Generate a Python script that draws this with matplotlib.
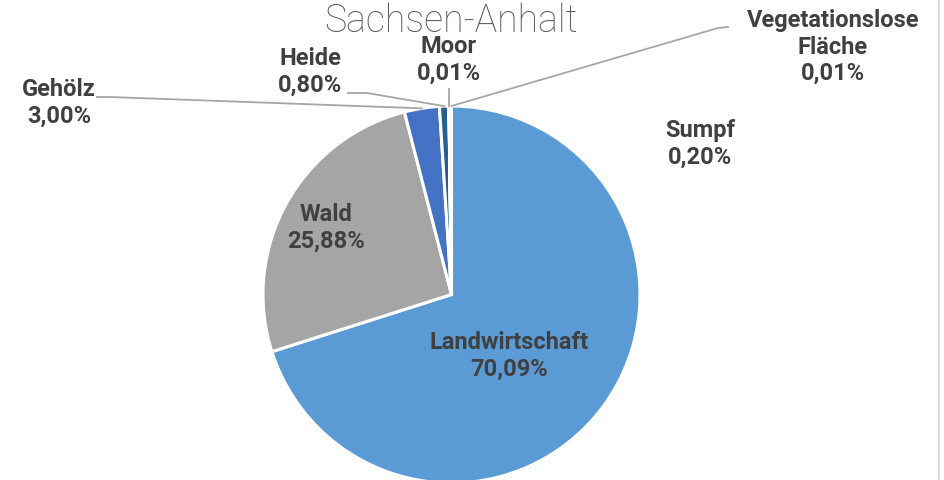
import numpy as np
import matplotlib.pyplot as plt

plt.rcParams['font.family'] = ['Roboto', 'DejaVu Sans']

# data
categories = ['Landwirtschaft', 'Wald', 'Gehölz', 'Heide', 'Moor', 'Sumpf', 'Vegetationslose\nFläche']
values = [70.09, 25.88, 3.00, 0.80, 0.01, 0.20, 0.01]
value_labels = ['70,09%', '25,88%', '3,00%', '0,80%', '0,01%', '0,20%', '0,01%']
colors = ['#5B9BD5', '#A5A5A5', '#4472C4', '#255E91', '#264478', '#7CAFDD', '#B7B7B7']

W, H = 944, 480
fig = plt.figure(figsize=(W / 100, H / 100), dpi=100)
ax = fig.add_axes([0, 0, 1, 1])

cx, cy, r = 451.5, H - 294.5, 188.5
wedges, _ = ax.pie(values, colors=colors, startangle=90, counterclock=False,
                   center=(cx, cy), radius=r, frame=True,
                   wedgeprops=dict(edgecolor='white', linewidth=2.2))
ax.set_xlim(0, W)
ax.set_ylim(0, H)
ax.set_aspect('equal')
ax.axis('off')

# label positions (image pixel coords, y from top)
label_pos = [(509, 356), (326, 228), (59, 103), (310, 72), (449, 60), (700, 144), (833, 47)]
txt_col = '#404040'
for name, vl, (x, y) in zip(categories, value_labels, label_pos):
    ax.text(x, H - y, name + '\n' + vl, ha='center', va='center', fontsize=17,
            fontweight='bold', color=txt_col, linespacing=1.2)

def edge_point(w, frac=1.0):
    a = np.deg2rad((w.theta1 + w.theta2) / 2)
    return cx + r * frac * np.cos(a), cy + r * frac * np.sin(a)

line_col = '#A6A6A6'
# Gehölz
px, py = edge_point(wedges[2])
ax.plot([97, 110, px], [H - 97, H - 97, py], color=line_col, lw=1.3)
# Heide
px, py = edge_point(wedges[3])
ax.plot([348, 367, px], [H - 93, H - 93, py], color=line_col, lw=1.3)
# Moor
px, py = edge_point(wedges[4])
ax.plot([px, px], [H - 89, py], color=line_col, lw=1.3)
# Vegetationslose Fläche
px, py = edge_point(wedges[6])
ax.plot([px, 718, 728], [py, H - 28, H - 27], color=line_col, lw=1.3)

ax.text(451, H - 32, 'Sachsen-Anhalt', ha='center', va='baseline', fontsize=27,
        fontweight='light', color='#595959')

ax.axvline(938.5, color='#D9D9D9', lw=1.5)

fig.savefig('out.png', dpi=100)
